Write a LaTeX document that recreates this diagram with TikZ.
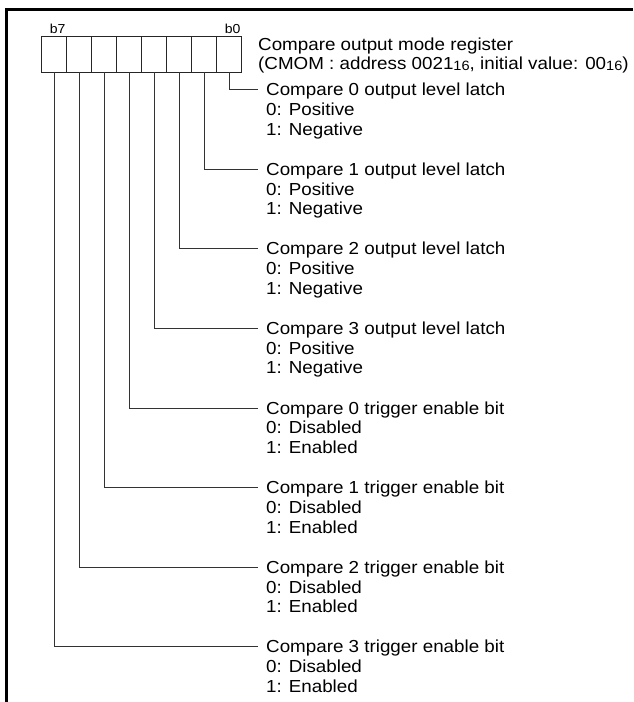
\documentclass[tikz,border=0pt]{standalone}
\usepackage{fontspec}
\setmainfont{Liberation Sans}[FakeStretch=1.08]
\usepackage{tikz}
\usetikzlibrary{
    positioning
}

\newcommand{\hexsub}{\raisebox{-0.6pt}{\fontsize{13.5}{13.5}\selectfont 16}}

\tikzset{
    bitbox/.style={draw=black!85, line width=0.9pt, minimum width=25pt,
        minimum height=36pt, inner sep=0pt, outer sep=0pt},
    bitlabel/.style={font=\fontsize{13}{13}\selectfont, inner sep=0pt,
        text height=9pt, text depth=0pt},
    item/.style={anchor=west, inner sep=0pt, text height=12.5pt, text depth=0pt,
        font=\fontsize{17.4}{19.7}\selectfont},
    wire/.style={draw=black!80, line width=0.8pt}
}

\begin{document}
\begin{tikzpicture}[x=1pt,y=-1pt]

\useasboundingbox (0,0) rectangle (633,702);

% Frame
\draw[line width=2.2pt] (6.5,702) -- (6.5,9.5) -- (633,9.5);

% Register bits
\foreach \k in {0,...,7}
    \node[bitbox] (b\k) at ({229.2-25*\k},54) {};

\node[bitlabel, above=2.7pt of b7.north, xshift=3.5pt] (l7) {b7};
\node[bitlabel, above=2.7pt of b0.north, xshift=3.5pt] (l0) {b0};

% Register name
\node[item] (reg) at (258,44) {Compare output mode register};
\node[item] (adr) at (258,63.5)
    {(CMOM : address 0021\hexsub, initial value: 00\hexsub)};

% Bit descriptions
\foreach \k/\txt/\zero/\one in {
    0/Compare 0 output level latch/Positive/Negative,
    1/Compare 1 output level latch/Positive/Negative,
    2/Compare 2 output level latch/Positive/Negative,
    3/Compare 3 output level latch/Positive/Negative,
    4/Compare 0 trigger enable bit/Disabled/Enabled,
    5/Compare 1 trigger enable bit/Disabled/Enabled,
    6/Compare 2 trigger enable bit/Disabled/Enabled,
    7/Compare 3 trigger enable bit/Disabled/Enabled}{
    \node[item] (t\k) at (266,{89.5+79.6*\k}) {\txt};
    \node[item] (z\k) at (266,{109.2+79.6*\k}) {0: \zero};
    \node[item] (o\k) at (266,{128.9+79.6*\k}) {1: \one};
    \draw[wire] (b\k.south) |- ([xshift=-8pt]t\k.west);
}

\end{tikzpicture}
\end{document}
